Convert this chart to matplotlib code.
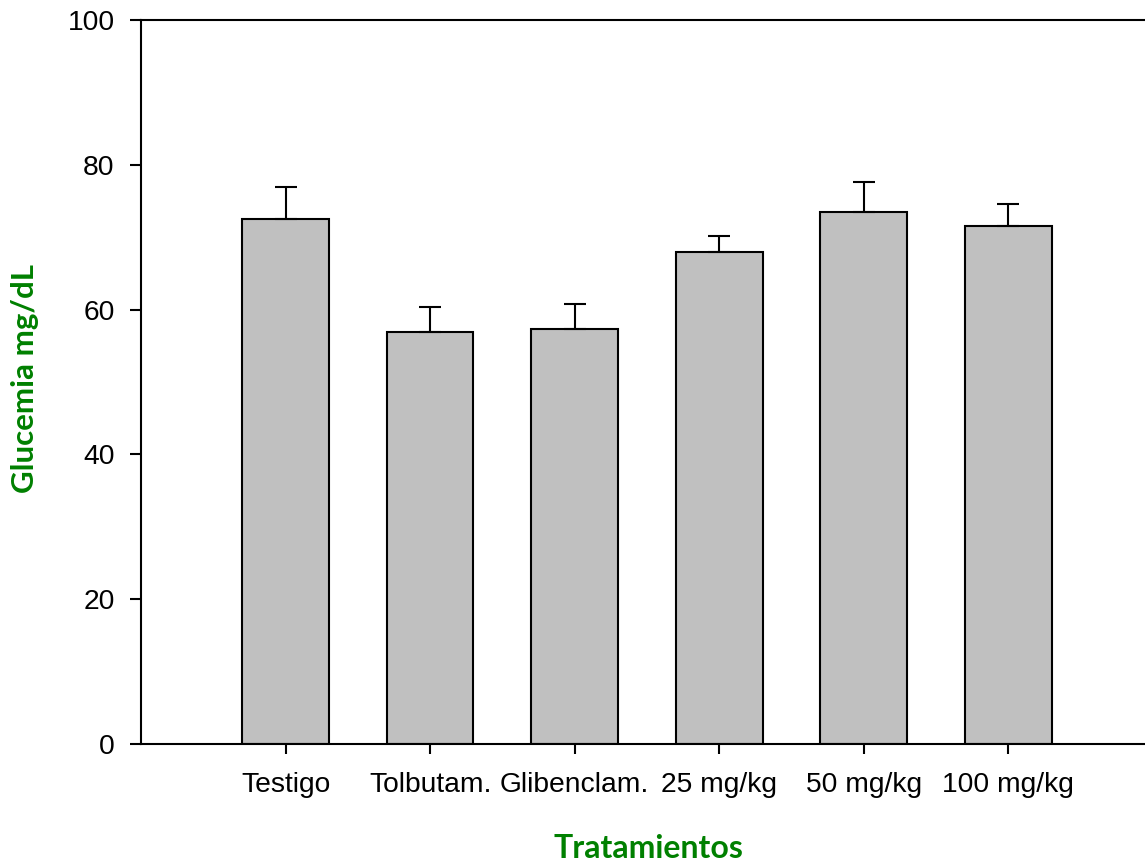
import matplotlib
matplotlib.use("Agg")
import matplotlib.pyplot as plt

categories = ["Testigo", "Tolbutam.", "Glibenclam.", "25 mg/kg", "50 mg/kg", "100 mg/kg"]
means = [72.5, 56.9, 57.3, 68.0, 73.5, 71.6]
errors = [4.4, 3.5, 3.5, 2.2, 4.1, 3.0]
yticks = [0, 20, 40, 60, 80, 100]

W, H = 1145, 865
fig = plt.figure(figsize=(W / 100, H / 100), dpi=100)
ax = fig.add_axes([141 / W, (H - 744) / H, (W - 141) / W, (744 - 20) / H])

pos = list(range(1, len(categories) + 1))
ax.bar(pos, means, width=0.6, color="#c0c0c0", edgecolor="black", linewidth=1.5, zorder=2)
ax.errorbar(pos, means, yerr=[[0] * len(errors), errors], fmt="none", ecolor="black",
            elinewidth=1.5, capsize=8, capthick=1.5, zorder=3)

ax.set_xlim(0, 6.945)
ax.set_ylim(0, 100)
ax.set_xticks(pos)
ax.set_xticklabels(categories, fontfamily="Liberation Sans", fontsize=20.3)
ax.set_yticks(yticks)
ax.set_yticklabels([str(v) for v in yticks], fontfamily="Liberation Sans", fontsize=20.3)
ax.tick_params(axis="x", direction="out", length=7.5, width=1.5, pad=13)
ax.tick_params(axis="y", direction="out", length=8, width=1.5, pad=11)
for s in ["left", "bottom", "top"]:
    ax.spines[s].set_linewidth(1.5)
ax.spines["right"].set_visible(False)

fig.text(648 / W, (H - 848) / H, "Tratamientos", color="#008000", fontfamily="Lato",
         fontweight="bold", fontsize=23, ha="center", va="center")
fig.text(25 / W, (H - 379) / H, "Glucemia mg/dL", color="#008000", fontfamily="Lato",
         fontweight="bold", fontsize=22.5, ha="center", va="center", rotation=90)

fig.savefig("out.png", dpi=100)
